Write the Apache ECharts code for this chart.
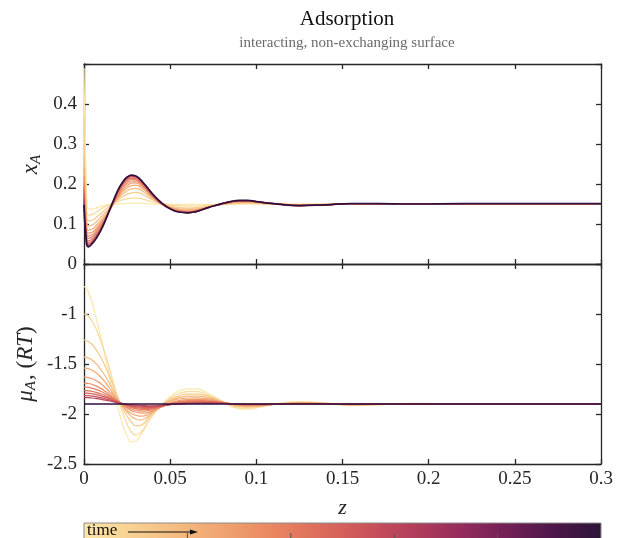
<!DOCTYPE html>
<html>
<head>
<meta charset="utf-8">
<script src="https://cdn.jsdelivr.net/npm/echarts@6/dist/echarts.min.js"></script>
<style>html,body{margin:0;padding:0;background:#fff;}#c{width:631px;height:538px;}</style>
</head>
<body>
<div id="c"></div>
<script>
// ---------- data ----------
var zValues = [0, 0.001, 0.0025, 0.005, 0.0075, 0.01, 0.0125, 0.015, 0.0175, 0.02,
  0.0225, 0.025, 0.0275, 0.03, 0.0325, 0.035, 0.0375, 0.04, 0.045, 0.05,
  0.055, 0.06, 0.065, 0.07, 0.075, 0.08, 0.085, 0.09, 0.095, 0.1,
  0.11, 0.125, 0.14, 0.155, 0.17, 0.19, 0.22, 0.26, 0.3];

// mole fraction x_A, one array per time snapshot (early -> late)
var xA_t0  = [0.49, 0.26, 0.138, 0.137, 0.141, 0.144, 0.147, 0.149, 0.150, 0.150, 0.151, 0.151, 0.152, 0.152, 0.152, 0.151, 0.151, 0.150, 0.150, 0.149, 0.149, 0.149, 0.149, 0.149, 0.149, 0.150, 0.150, 0.150, 0.150, 0.150, 0.150, 0.150, 0.150, 0.151, 0.151, 0.151, 0.151, 0.151, 0.151];
var xA_t1  = [0.37, 0.20, 0.122, 0.124, 0.131, 0.138, 0.144, 0.149, 0.153, 0.157, 0.161, 0.163, 0.165, 0.165, 0.164, 0.161, 0.158, 0.155, 0.151, 0.148, 0.146, 0.145, 0.145, 0.146, 0.147, 0.149, 0.150, 0.151, 0.152, 0.151, 0.150, 0.149, 0.150, 0.151, 0.151, 0.151, 0.151, 0.151, 0.151];
var xA_t2  = [0.30, 0.17, 0.108, 0.110, 0.118, 0.127, 0.136, 0.145, 0.153, 0.161, 0.168, 0.174, 0.178, 0.179, 0.177, 0.172, 0.166, 0.160, 0.151, 0.145, 0.141, 0.140, 0.141, 0.143, 0.146, 0.149, 0.151, 0.153, 0.153, 0.152, 0.150, 0.148, 0.149, 0.151, 0.151, 0.151, 0.151, 0.151, 0.151];
var xA_t3  = [0.265, 0.15, 0.095, 0.098, 0.107, 0.118, 0.129, 0.141, 0.153, 0.165, 0.175, 0.183, 0.188, 0.189, 0.186, 0.179, 0.171, 0.163, 0.151, 0.143, 0.138, 0.137, 0.138, 0.141, 0.145, 0.149, 0.152, 0.154, 0.154, 0.153, 0.150, 0.148, 0.149, 0.151, 0.151, 0.151, 0.151, 0.151, 0.151];
var xA_t4  = [0.24, 0.13, 0.085, 0.088, 0.098, 0.110, 0.123, 0.138, 0.153, 0.168, 0.181, 0.190, 0.196, 0.197, 0.193, 0.185, 0.175, 0.166, 0.151, 0.142, 0.136, 0.134, 0.136, 0.140, 0.145, 0.149, 0.153, 0.155, 0.155, 0.154, 0.151, 0.147, 0.148, 0.151, 0.151, 0.151, 0.151, 0.151, 0.151];
var xA_t5  = [0.22, 0.12, 0.077, 0.080, 0.091, 0.104, 0.119, 0.136, 0.154, 0.171, 0.186, 0.196, 0.202, 0.203, 0.198, 0.189, 0.178, 0.167, 0.151, 0.140, 0.134, 0.132, 0.134, 0.139, 0.145, 0.150, 0.154, 0.156, 0.156, 0.155, 0.151, 0.147, 0.148, 0.151, 0.151, 0.151, 0.151, 0.151, 0.151];
var xA_t6  = [0.205, 0.11, 0.070, 0.074, 0.086, 0.100, 0.116, 0.135, 0.155, 0.174, 0.191, 0.202, 0.207, 0.207, 0.202, 0.192, 0.180, 0.168, 0.150, 0.139, 0.133, 0.131, 0.133, 0.139, 0.145, 0.150, 0.154, 0.157, 0.157, 0.155, 0.151, 0.147, 0.148, 0.151, 0.151, 0.151, 0.151, 0.151, 0.151];
var xA_t7  = [0.195, 0.10, 0.064, 0.068, 0.081, 0.096, 0.114, 0.135, 0.157, 0.178, 0.196, 0.207, 0.212, 0.211, 0.205, 0.194, 0.182, 0.169, 0.150, 0.139, 0.132, 0.130, 0.132, 0.138, 0.145, 0.150, 0.155, 0.157, 0.158, 0.156, 0.151, 0.146, 0.148, 0.151, 0.151, 0.151, 0.151, 0.151, 0.151];
var xA_t8  = [0.185, 0.095, 0.058, 0.063, 0.076, 0.092, 0.112, 0.135, 0.158, 0.181, 0.199, 0.211, 0.215, 0.214, 0.207, 0.196, 0.183, 0.170, 0.150, 0.138, 0.131, 0.129, 0.132, 0.138, 0.145, 0.150, 0.155, 0.158, 0.158, 0.156, 0.151, 0.146, 0.148, 0.151, 0.151, 0.151, 0.151, 0.151, 0.151];
var xA_t9  = [0.175, 0.090, 0.053, 0.059, 0.072, 0.089, 0.111, 0.136, 0.160, 0.184, 0.202, 0.214, 0.218, 0.217, 0.209, 0.198, 0.185, 0.172, 0.151, 0.138, 0.131, 0.129, 0.131, 0.138, 0.145, 0.151, 0.155, 0.158, 0.158, 0.156, 0.151, 0.146, 0.148, 0.151, 0.151, 0.151, 0.151, 0.151, 0.151];
var xA_t10 = [0.165, 0.085, 0.049, 0.056, 0.070, 0.088, 0.110, 0.136, 0.161, 0.185, 0.204, 0.216, 0.220, 0.219, 0.211, 0.199, 0.186, 0.173, 0.152, 0.138, 0.130, 0.128, 0.131, 0.138, 0.145, 0.151, 0.156, 0.158, 0.158, 0.156, 0.151, 0.146, 0.148, 0.151, 0.151, 0.151, 0.151, 0.151, 0.151];
var xA_t11 = [0.158, 0.080, 0.046, 0.054, 0.068, 0.087, 0.110, 0.136, 0.162, 0.186, 0.205, 0.217, 0.221, 0.220, 0.212, 0.200, 0.187, 0.174, 0.153, 0.138, 0.130, 0.128, 0.131, 0.138, 0.145, 0.151, 0.156, 0.158, 0.158, 0.156, 0.151, 0.146, 0.148, 0.151, 0.151, 0.151, 0.151, 0.151, 0.151];
var xA_t12 = [0.148, 0.075, 0.043, 0.052, 0.067, 0.086, 0.110, 0.137, 0.163, 0.187, 0.205, 0.217, 0.222, 0.220, 0.212, 0.200, 0.187, 0.174, 0.153, 0.138, 0.130, 0.128, 0.131, 0.138, 0.145, 0.151, 0.156, 0.159, 0.159, 0.156, 0.151, 0.146, 0.148, 0.151, 0.151, 0.150, 0.151, 0.151, 0.151];

// chemical potential mu_A (RT)
var muA_t0  = [-0.727, -0.735, -0.78, -0.90, -1.07, -1.25, -1.44, -1.64, -1.82, -1.96, -2.11, -2.22, -2.28, -2.27, -2.22, -2.15, -2.07, -2.01, -1.915, -1.825, -1.77, -1.748, -1.748, -1.775, -1.82, -1.87, -1.92, -1.948, -1.952, -1.94, -1.905, -1.875, -1.89, -1.915, -1.91, -1.893, -1.90, -1.90, -1.90];
var muA_t1  = [-1.0, -1.004, -1.02, -1.08, -1.17, -1.28, -1.41, -1.56, -1.72, -1.86, -1.99, -2.10, -2.18, -2.21, -2.19, -2.14, -2.07, -2.01, -1.91, -1.84, -1.795, -1.777, -1.776, -1.795, -1.83, -1.875, -1.915, -1.938, -1.942, -1.933, -1.905, -1.88, -1.892, -1.912, -1.907, -1.894, -1.90, -1.90, -1.90];
var muA_t2  = [-1.26, -1.263, -1.275, -1.31, -1.37, -1.44, -1.53, -1.63, -1.74, -1.85, -1.94, -2.02, -2.08, -2.115, -2.115, -2.09, -2.04, -1.99, -1.91, -1.855, -1.818, -1.801, -1.80, -1.812, -1.84, -1.875, -1.908, -1.927, -1.932, -1.926, -1.905, -1.885, -1.893, -1.91, -1.905, -1.895, -1.90, -1.90, -1.90];
var muA_t3  = [-1.43, -1.432, -1.44, -1.465, -1.505, -1.56, -1.625, -1.70, -1.78, -1.855, -1.925, -1.98, -2.025, -2.05, -2.06, -2.05, -2.02, -1.985, -1.915, -1.865, -1.835, -1.822, -1.82, -1.828, -1.848, -1.877, -1.903, -1.92, -1.925, -1.921, -1.905, -1.888, -1.894, -1.908, -1.904, -1.896, -1.90, -1.90, -1.90];
var muA_t4  = [-1.54, -1.541, -1.547, -1.565, -1.595, -1.635, -1.685, -1.745, -1.81, -1.87, -1.925, -1.965, -1.995, -2.012, -2.02, -2.018, -2.0, -1.975, -1.92, -1.875, -1.85, -1.84, -1.838, -1.843, -1.858, -1.88, -1.90, -1.914, -1.919, -1.917, -1.905, -1.89, -1.895, -1.906, -1.903, -1.897, -1.90, -1.90, -1.90];
var muA_t5  = [-1.63, -1.631, -1.636, -1.65, -1.672, -1.70, -1.737, -1.78, -1.825, -1.87, -1.91, -1.943, -1.966, -1.98, -1.988, -1.99, -1.984, -1.97, -1.93, -1.89, -1.866, -1.857, -1.854, -1.856, -1.866, -1.882, -1.898, -1.909, -1.914, -1.913, -1.905, -1.892, -1.896, -1.905, -1.902, -1.898, -1.90, -1.90, -1.90];
var muA_t6  = [-1.69, -1.691, -1.695, -1.706, -1.724, -1.746, -1.775, -1.808, -1.843, -1.877, -1.907, -1.932, -1.95, -1.962, -1.968, -1.97, -1.967, -1.958, -1.928, -1.895, -1.876, -1.867, -1.864, -1.865, -1.872, -1.884, -1.897, -1.906, -1.911, -1.911, -1.905, -1.894, -1.896, -1.904, -1.902, -1.90, -1.90, -1.90, -1.90];
var muA_t7  = [-1.73, -1.731, -1.734, -1.743, -1.757, -1.775, -1.798, -1.824, -1.852, -1.879, -1.903, -1.922, -1.937, -1.947, -1.953, -1.955, -1.954, -1.948, -1.925, -1.90, -1.884, -1.875, -1.872, -1.872, -1.877, -1.886, -1.896, -1.904, -1.908, -1.908, -1.904, -1.895, -1.897, -1.903, -1.90, -1.90, -1.90, -1.90, -1.90];
var muA_t8  = [-1.765, -1.766, -1.768, -1.775, -1.786, -1.80, -1.818, -1.838, -1.86, -1.881, -1.90, -1.915, -1.927, -1.936, -1.941, -1.944, -1.945, -1.941, -1.923, -1.903, -1.89, -1.882, -1.879, -1.878, -1.881, -1.888, -1.896, -1.903, -1.906, -1.906, -1.903, -1.896, -1.898, -1.902, -1.90, -1.90, -1.90, -1.90, -1.90];
var muA_t9  = [-1.79, -1.791, -1.793, -1.798, -1.807, -1.818, -1.832, -1.848, -1.866, -1.883, -1.898, -1.91, -1.92, -1.927, -1.932, -1.934, -1.935, -1.933, -1.92, -1.905, -1.894, -1.888, -1.885, -1.884, -1.886, -1.89, -1.896, -1.901, -1.904, -1.904, -1.902, -1.897, -1.898, -1.901, -1.90, -1.90, -1.90, -1.90, -1.90];
var muA_t10 = [-1.815, -1.815, -1.817, -1.821, -1.828, -1.837, -1.848, -1.86, -1.873, -1.886, -1.897, -1.906, -1.913, -1.918, -1.922, -1.924, -1.925, -1.924, -1.916, -1.906, -1.898, -1.893, -1.89, -1.889, -1.89, -1.893, -1.897, -1.90, -1.902, -1.903, -1.901, -1.898, -1.899, -1.90, -1.90, -1.90, -1.90, -1.90, -1.90];
var muA_t11 = [-1.835, -1.835, -1.837, -1.84, -1.846, -1.853, -1.861, -1.87, -1.879, -1.888, -1.896, -1.903, -1.908, -1.912, -1.915, -1.917, -1.918, -1.918, -1.913, -1.906, -1.90, -1.896, -1.893, -1.892, -1.892, -1.894, -1.897, -1.899, -1.901, -1.902, -1.901, -1.899, -1.90, -1.90, -1.90, -1.90, -1.90, -1.90, -1.90];
var muA_t12 = [-1.90, -1.90, -1.90, -1.90, -1.90, -1.90, -1.90, -1.90, -1.90, -1.90, -1.90, -1.90, -1.90, -1.90, -1.90, -1.90, -1.90, -1.90, -1.90, -1.90, -1.90, -1.90, -1.90, -1.90, -1.90, -1.90, -1.90, -1.90, -1.90, -1.90, -1.90, -1.90, -1.90, -1.90, -1.90, -1.90, -1.90, -1.90, -1.90];

var xTicks = [0, 0.05, 0.1, 0.15, 0.2, 0.25, 0.3];
var topYTicks = [0, 0.1, 0.2, 0.3, 0.4];
var bottomYTicks = [-2.5, -2, -1.5, -1];

// ---------- styles ----------
var xASeries = [xA_t0, xA_t1, xA_t2, xA_t3, xA_t4, xA_t5, xA_t6, xA_t7, xA_t8, xA_t9, xA_t10, xA_t11, xA_t12];
var muASeries = [muA_t0, muA_t1, muA_t2, muA_t3, muA_t4, muA_t5, muA_t6, muA_t7, muA_t8, muA_t9, muA_t10, muA_t11, muA_t12];
var lineColors = ['#fce9ab', '#fada9b', '#f7cb8c', '#f5bc80', '#f2ab74', '#ef9c6b', '#eb8d65', '#e57e5f', '#dd6c5c', '#d3605b', '#c6505a', '#b8435b', '#2f0f3d'];
var cmapStops = ['#fbe6a8', '#f8d193', '#f5bb7f', '#f0a26e', '#e98762', '#dd6c5c', '#cb535a', '#b33e5c', '#952c5c', '#712056', '#4d1749', '#2c1538'];

var FONT = '"Liberation Serif", "DejaVu Serif", serif';
var AX = '#262626';

function pairs(arr) {
  var out = [];
  for (var i = 0; i < zValues.length && i < arr.length; i++) out.push([zValues[i], arr[i]]);
  return out;
}

var series = [];
function addLines(list, xi, yi) {
  list.forEach(function (arr, k) {
    series.push({ type: 'line', xAxisIndex: xi, yAxisIndex: yi, data: pairs(arr), showSymbol: false, symbol: 'none',
      smooth: 0.5, clip: true, silent: true, animation: false,
      lineStyle: { color: lineColors[k], width: k === 12 ? 1.7 : 1.25 }, z: 2 + k });
  });
}
addLines(xASeries, 0, 0);
addLines(muASeries, 2, 2);

function near(a, b) { return Math.abs(a - b) < 1e-9; }
function inList(v, list) { for (var i = 0; i < list.length; i++) { if (near(v, list[i])) return true; } return false; }

function xAx(grid, pos, labels, name) {
  return {
    type: 'value', gridIndex: grid, position: pos, min: 0, max: 0.3, interval: 0.05,
    axisLine: { show: true, onZero: false, lineStyle: { color: AX, width: 1.3 } },
    axisTick: { show: true, inside: true, length: 5, lineStyle: { color: AX, width: 1.3 } },
    splitLine: { show: false },
    axisLabel: { show: labels, margin: 6, color: AX, fontFamily: FONT, fontSize: 19,
      formatter: function (v) { return inList(v, xTicks) ? String(+v.toFixed(2)) : ''; } },
    name: name || '', nameLocation: 'middle', nameGap: 33, nameMoveOverlap: false,
    nameTextStyle: { fontFamily: FONT, fontStyle: 'italic', fontSize: 22, color: AX }
  };
}
function yAx(grid, pos, min, max, interval, labels, ticks, name, gap) {
  return {
    type: 'value', gridIndex: grid, position: pos, min: min, max: max, interval: interval,
    axisLine: { show: true, onZero: false, lineStyle: { color: AX, width: 1.3 } },
    axisTick: { show: true, inside: true, length: 5, lineStyle: { color: AX, width: 1.3 } },
    splitLine: { show: false },
    axisLabel: { show: labels, margin: 7, color: AX, fontFamily: FONT, fontSize: 19,
      formatter: function (v) { return inList(v, ticks) ? String(+v.toFixed(2)) : ''; } },
    name: name || '', nameLocation: 'middle', nameGap: gap || 40, nameRotate: 90, nameMoveOverlap: false,
    nameTextStyle: { fontFamily: FONT, fontSize: 22, color: AX,
      rich: {
        i: { fontFamily: FONT, fontStyle: 'italic', fontSize: 23, color: AX },
        r: { fontFamily: FONT, fontSize: 23, color: AX },
        s: { fontFamily: FONT, fontStyle: 'italic', fontSize: 15, color: AX, padding: [12, 1, 0, 0] }
      } }
  };
}

var chart = echarts.init(document.getElementById('c'), null, { renderer: 'canvas' });

var barX = 84, barW = 517, barY = 523, barH = 20;
var gradStops = cmapStops.map(function (c, i) { return { offset: i / (cmapStops.length - 1), color: c }; });
var graphics = [
  { type: 'rect', shape: { x: barX, y: barY, width: barW, height: barH }, style: { fill: new echarts.graphic.LinearGradient(0, 0, 1, 0, gradStops), stroke: '#8c8c8c', lineWidth: 1 }, z: 1 },
  { type: 'text', x: barX + 3, y: barY - 1, style: { text: 'time', font: '17px ' + FONT, fill: '#111' }, z: 3 },
  { type: 'line', shape: { x1: barX + 44, y1: barY + 9, x2: barX + 110, y2: barY + 9 }, style: { stroke: '#111', lineWidth: 1.2 }, z: 3 },
  { type: 'polygon', shape: { points: [[barX + 114, barY + 9], [barX + 106, barY + 6.5], [barX + 106, barY + 11.5]] }, style: { fill: '#111' }, z: 3 }
];
[0.2, 0.4, 0.6, 0.8].forEach(function (f) {
  var tx = barX + f * barW;
  graphics.push({ type: 'line', shape: { x1: tx, y1: barY + 10, x2: tx, y2: barY + 20 }, style: { stroke: '#555', lineWidth: 1 }, z: 2 });
});

chart.setOption({
  animation: false,
  backgroundColor: '#ffffff',
  title: {
    text: 'Adsorption', subtext: 'interacting, non-exchanging surface',
    left: 342, top: 4, textAlign: 'center', itemGap: 6,
    textStyle: { fontFamily: FONT, fontSize: 21, fontWeight: 'normal', color: '#111' },
    subtextStyle: { fontFamily: FONT, fontSize: 15, color: '#6b6b6b' }
  },
  grid: [
    { left: 84, width: 517, top: 64, height: 200, containLabel: false },
    { left: 84, width: 517, top: 264, height: 200, containLabel: false }
  ],
  xAxis: [
    xAx(0, 'bottom', false),
    xAx(0, 'top', false),
    xAx(1, 'bottom', true, 'z'),
    xAx(1, 'top', false)
  ],
  yAxis: [
    yAx(0, 'left', 0, 0.5, 0.1, true, topYTicks, '{i|x}{s|A}', 40),
    yAx(0, 'right', 0, 0.5, 0.1, false, topYTicks),
    yAx(1, 'left', -2.5, -0.5, 0.5, true, bottomYTicks, '{i|μ}{s|A}{r|, (}{i|RT}{r|)}', 45),
    yAx(1, 'right', -2.5, -0.5, 0.5, false, bottomYTicks)
  ],
  series: series,
  graphic: graphics
});
</script>
</body>
</html>
